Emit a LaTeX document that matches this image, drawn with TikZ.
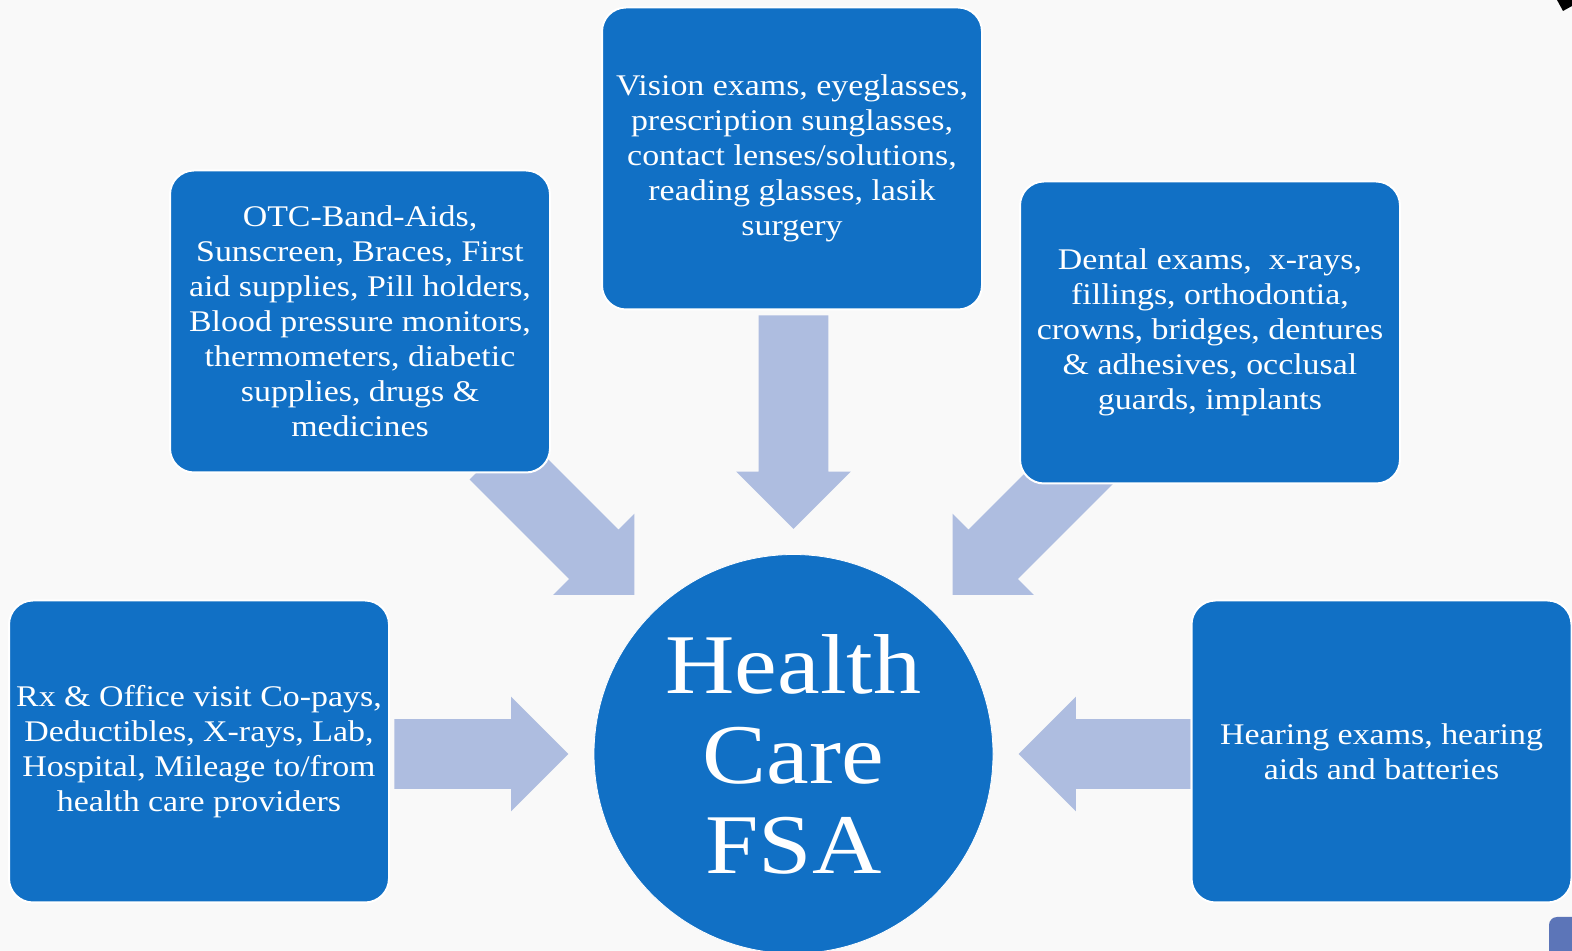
\documentclass[tikz,border=0pt]{standalone}
\usepackage{fontspec}
\setmainfont[FakeStretch=1.13]{Liberation Serif}
\usetikzlibrary{shapes.arrows,calc}
\definecolor{fsablue}{RGB}{17,112,197}
\definecolor{arrblue}{RGB}{174,189,224}
\definecolor{paper}{RGB}{249,249,249}
\definecolor{tabblue}{RGB}{92,117,184}

\def\tipRad{224.5}

\begin{document}
\begin{tikzpicture}[
    x=0.5pt, y=0.5pt,
    item/.style={draw=white, line width=1pt, fill=fsablue, rounded corners=12pt,
      minimum width=190pt, minimum height=151pt, inner sep=0pt,
      text=white, align=center, font=\fontsize{15}{17.5}\selectfont},
    hub/.style={circle, draw=white, fill=fsablue, minimum size=199.5pt, inner sep=0pt,
      text=white, align=center, font=\fontsize{42.5}{45}\selectfont},
    feed/.style={single arrow, fill=arrblue, inner xsep=0pt, inner ysep=17.25pt,
      single arrow head extend=11.25pt, single arrow tip angle=90, anchor=tip},
  ]
  \fill[paper] (0,0) rectangle (1572,951);
  \useasboundingbox (0,0) rectangle (1572,951);

  % Centre
  \node[hub] (hc) at (793.5,197) {Health\\Care\\FSA};

  % Block arrows into the centre
  \foreach \a/\r [evaluate={\l=(\r-\tipRad)/2;}] in
    {180/398.5, 135/422.5, 90/438, 45/422.5, 0/396.5} {
      \node[feed, minimum height=\l pt, rotate=\a+180] (arr-\a)
        at ($(hc.center)+(\a:\tipRad)$) {};
    }

  % Expense boxes
  \node[item] (rx) at (199,199.5)
    {Rx \& Office visit Co-pays,\\Deductibles, X-rays, Lab,\\Hospital, Mileage to/from\\health care providers};
  \node[item] (otc) at (360,629.5)
    {OTC-Band-Aids,\\Sunscreen, Braces, First\\aid supplies, Pill holders,\\Blood pressure monitors,\\thermometers, diabetic\\supplies, drugs \&\\medicines};
  \node[item] (vision) at (792,792.5)
    {Vision exams, eyeglasses,\\prescription sunglasses,\\contact lenses/solutions,\\reading glasses, lasik\\surgery};
  \node[item] (dental) at (1210,618.5)
    {Dental exams,~ x-rays,\\fillings, orthodontia,\\crowns, bridges, dentures\\\& adhesives, occlusal\\guards, implants};
  \node[item] (hearing) at (1381.5,199.5)
    {Hearing exams, hearing\\aids and batteries};

  % slide corner marks
  \fill[black] (1557,951) -- (1572,951) -- (1572,945) -- (1563,940) -- cycle;
  \fill[tabblue, rounded corners=4pt] (1549,-10) -- (1549,34) -- (1580,34) -- (1580,-10) -- cycle;
\end{tikzpicture}
\end{document}
